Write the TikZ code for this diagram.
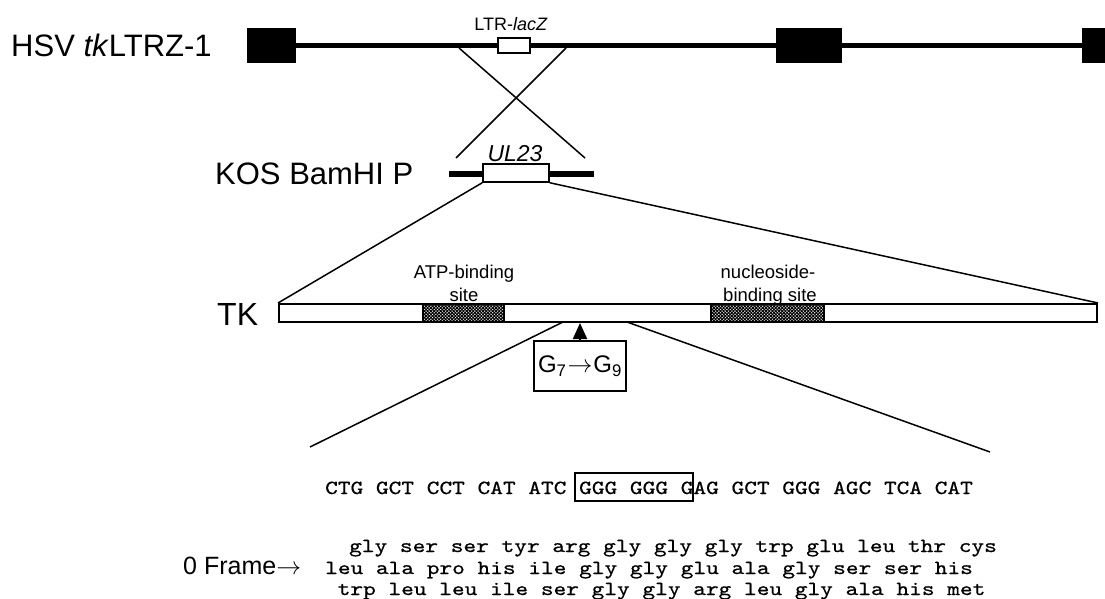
\documentclass[tikz,border=0pt]{standalone}
\usepackage{fontspec}
\setmainfont{Liberation Sans}
\newfontfamily\seqfont{lmmono10-regular}[Extension=.otf,FakeStretch=1.2095,FakeBold=0.6]
\usetikzlibrary{patterns.meta,arrows.meta}
\newcommand{\fsz}[1]{\fontsize{#1}{#1}\selectfont}
\newcommand{\seqtxt}[1]{{\seqfont\fontsize{20}{20}\selectfont #1}}
\begin{document}
\begin{tikzpicture}[x=1pt,y=-1pt,
  exon/.style={fill=black,inner sep=0pt},
  openbox/.style={draw=black,fill=white,line width=1.5pt,inner sep=0pt},
  hatchbox/.style={draw=black,line width=1.5pt,inner sep=0pt,
     pattern={Lines[angle=45,distance=2.3pt,line width=1pt]}},
  thin line/.style={line width=1.5pt},
  big/.style={font=\fsz{31}},
  small/.style={font=\fsz{18.5},inner sep=0pt,anchor=base},
  seq/.style={inner sep=0pt,anchor=base west}]
\useasboundingbox (0,0) rectangle (1105,599);

% ---- HSV tkLTRZ-1 ----
\node[big,anchor=west,inner sep=0pt] (hsv) at (11,45) {HSV \textit{tk}LTRZ-1};
\node[exon,minimum width=49pt,minimum height=35pt] (e1) at (271.5,45.5) {};
\node[exon,minimum width=66pt,minimum height=35pt] (e2) at (809,45.5) {};
\node[exon,minimum width=23pt,minimum height=35pt] (e3) at (1093.5,45.5) {};
\node[openbox,minimum width=32pt,minimum height=15pt] (ltr) at (514,45.5) {};
\draw[line width=5.5pt] (e1.east) -- (ltr.west);
\draw[line width=5.5pt] (ltr.east) -- (e2.west |- ltr.east);
\draw[line width=5.5pt] (e2.east |- ltr.east) -- (e3.west |- ltr.east);
\node[font=\fsz{18},inner sep=0pt,anchor=base] (ltrlab) at (511,31) {LTR-\textit{lacZ}};

% ---- crossover ----
\coordinate (xa) at (459,48);
\coordinate (xb) at (566,48);
\coordinate (xc) at (585,158);
\coordinate (xd) at (456,158);
\draw[thin line] (xa) -- (xc);
\draw[thin line] (xb) -- (xd);

% ---- KOS BamHI P ----
\node[big,anchor=west,inner sep=0pt] (kos) at (215,174) {KOS BamHI P};
\coordinate (k1) at (449,174);
\coordinate (k2) at (594,174);
\draw[line width=6pt] (k1) -- (k2);
\node[openbox,minimum width=66pt,minimum height=18pt] (ul) at (516,173) {};
\node[font=\fsz{23},anchor=base,inner sep=0pt] (ullab) at (515,161) {\textit{UL23}};

% ---- TK ----
\node[font=\fsz{32},anchor=west,inner sep=0pt] (tk) at (217,314) {TK};
\node[draw=black,fill=white,line width=2pt,inner sep=0pt,minimum width=818pt,minimum height=18pt] (bar) at (688,313) {};
\node[hatchbox,minimum width=81pt,minimum height=18pt] (atp) at (463.5,313) {};
\node[hatchbox,minimum width=113pt,minimum height=18pt] (nuc) at (767.5,313) {};
\path[pattern={Lines[angle=-45,distance=2.3pt,line width=1pt]}] (atp.south west) rectangle (atp.north east);
\path[pattern={Lines[angle=-45,distance=2.3pt,line width=1pt]}] (nuc.south west) rectangle (nuc.north east);
\node[small] (atplab) at (464,278) {ATP-binding};
\node[small] (atplab2) at (464,301) {site};
\node[small] (nuclab) at (768,278) {nucleoside-};
\node[small] (nuclab2) at (770,301) {binding site};

% ---- expansion lines KOS -> TK ----
\draw[thin line] (ul.south west) -- (bar.north west);
\draw[thin line] (ul.south east) -- (bar.north east);

% ---- mutation ----
\node[draw=black,line width=1.5pt,inner sep=0pt,minimum width=92pt,minimum height=50pt,font=\fsz{24}] (mut) at (580,366)
  {G\textsubscript{7}\kern1pt$\rightarrow$\kern1pt G\textsubscript{9}};
\draw[line width=2pt,-{Triangle[length=16pt,width=14pt]}] (mut.north) -- (mut.north |- bar.south);

% ---- expansion lines TK -> sequence ----
\coordinate (tl) at (563,322);
\coordinate (tr) at (627,322);
\coordinate (sl) at (310,447);
\coordinate (sr) at (990,452);
\draw[thin line] (tl) -- (sl);
\draw[thin line] (tr) -- (sr);

% ---- sequence ----
\node[seq] (dna) at (325,494) {\seqtxt{CTG GCT CCT CAT ATC GGG GGG GAG GCT GGG AGC TCA CAT}};
\node[draw=black,line width=1.5pt,inner sep=0pt,minimum width=118pt,minimum height=28pt] (box) at (634,487) {};
\node[seq] (f2) at (349,552) {\seqtxt{gly ser ser tyr arg gly gly gly trp glu leu thr cys}};
\node[seq] (f0) at (325,574) {\seqtxt{leu ala pro his ile gly gly glu ala gly ser ser his}};
\node[seq] (f1) at (337.5,595) {\seqtxt{trp leu leu ile ser gly gly arg leu gly ala his met}};
\node[font=\fsz{25},anchor=base west,inner sep=0pt] (frame) at (183,574) {0 Frame$\rightarrow$};
\end{tikzpicture}
\end{document}
